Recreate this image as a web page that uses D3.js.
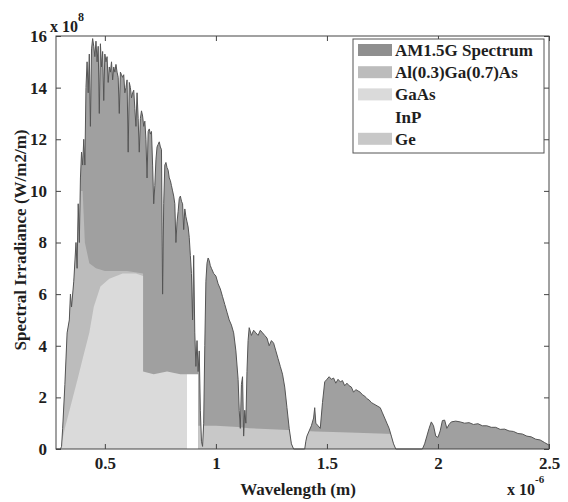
<!DOCTYPE html>
<html>
<head>
<meta charset="utf-8">
<script src="https://cdn.jsdelivr.net/npm/d3@7"></script>
<style>
  body { margin: 0; background: #fff; }
  svg text { font-family: "Liberation Serif", "Times New Roman", serif; font-weight: bold; fill: #1e1e1e; }
</style>
</head>
<body>
<div id="chart"></div>
<script>
// wavelength in micrometres (axis shows x 10^-6), irradiance in 10^8 W/m2/m
var wavelength = [0.28, 0.30, 0.305, 0.31, 0.32, 0.33, 0.34, 0.345, 0.35, 0.36, 0.37, 0.375, 0.38, 0.385, 0.39, 0.395,
  0.40, 0.405, 0.41, 0.415, 0.42, 0.425, 0.43, 0.435, 0.44, 0.445, 0.45, 0.455, 0.46, 0.465, 0.47, 0.475,
  0.48, 0.485, 0.49, 0.495, 0.50, 0.505, 0.51, 0.515, 0.52, 0.525, 0.53, 0.535, 0.54, 0.545, 0.55, 0.555,
  0.56, 0.565, 0.57, 0.575, 0.58, 0.585, 0.59, 0.595, 0.60, 0.605, 0.61, 0.615, 0.62, 0.625, 0.63, 0.635,
  0.64, 0.645, 0.65, 0.655, 0.66, 0.665, 0.67, 0.675, 0.68, 0.685, 0.69, 0.695, 0.70, 0.705, 0.71, 0.715,
  0.72, 0.725, 0.73, 0.735, 0.74, 0.745, 0.75, 0.755, 0.76, 0.765, 0.77, 0.775, 0.78, 0.785, 0.79, 0.795,
  0.80, 0.805, 0.81, 0.815, 0.82, 0.825, 0.83, 0.835, 0.84, 0.845, 0.85, 0.855, 0.86, 0.865, 0.87, 0.875,
  0.88, 0.885, 0.89, 0.895, 0.90, 0.905, 0.91, 0.915, 0.92, 0.925, 0.93, 0.935, 0.94, 0.945, 0.95, 0.955,
  0.96, 0.965, 0.97, 0.975, 0.98, 0.99, 1.00, 1.01, 1.02, 1.03, 1.04, 1.05, 1.06, 1.07, 1.08, 1.09,
  1.10, 1.105, 1.11, 1.115, 1.12, 1.125, 1.13, 1.135, 1.14, 1.145, 1.15, 1.16, 1.17, 1.18, 1.19, 1.20,
  1.21, 1.22, 1.23, 1.24, 1.25, 1.26, 1.27, 1.28, 1.29, 1.30, 1.31, 1.32, 1.33, 1.34, 1.35, 1.40,
  1.405, 1.41, 1.42, 1.43, 1.44, 1.445, 1.45, 1.46, 1.47, 1.48, 1.49, 1.50, 1.51, 1.52, 1.53, 1.54,
  1.55, 1.56, 1.57, 1.58, 1.59, 1.60, 1.61, 1.62, 1.63, 1.64, 1.65, 1.66, 1.67, 1.68, 1.69, 1.70,
  1.71, 1.72, 1.73, 1.74, 1.75, 1.76, 1.77, 1.78, 1.79, 1.80, 1.81, 1.93, 1.94, 1.95, 1.96, 1.97,
  1.98, 1.99, 2.00, 2.01, 2.02, 2.03, 2.04, 2.05, 2.06, 2.08, 2.10, 2.12, 2.14, 2.16, 2.18, 2.20,
  2.22, 2.24, 2.26, 2.28, 2.30, 2.32, 2.34, 2.36, 2.38, 2.40, 2.42, 2.44, 2.46, 2.48, 2.50];
var am15g = [0, 0, 0.1, 0.8, 2.5, 4.5, 5.0, 6.0, 5.5, 6.5, 8.0, 7.0, 9.5, 8.0, 10.5, 11.5,
  11.0, 12.0, 11.0, 14.0, 15.0, 13.8, 15.3, 12.5, 15.5, 15.9, 15.6, 15.2, 15.8, 15.0, 15.6, 13.0,
  15.7, 14.8, 15.4, 13.5, 15.3, 15.0, 15.2, 14.2, 14.8, 14.6, 15.0, 14.3, 14.8, 14.6, 14.9, 14.6,
  14.4, 13.0, 14.6, 14.5, 14.4, 14.5, 13.8, 14.0, 14.3, 11.5, 14.2, 14.0, 13.6, 13.8, 13.9, 13.2,
  12.5, 13.8, 12.8, 11.5, 12.8, 13.1, 12.9, 12.5, 12.7, 12.0, 10.5, 12.3, 12.4, 12.2, 12.3, 11.0,
  9.5, 10.2, 11.2, 11.7, 11.8, 11.9, 11.7, 11.6, 6.0, 9.5, 11.0, 11.1, 10.9, 10.8, 10.5, 10.4,
  10.2, 10.0, 9.8, 9.5, 8.0, 8.8, 9.2, 9.7, 9.8, 9.6, 9.5, 8.5, 9.3, 9.0, 8.8, 8.6,
  8.2, 7.5, 6.8, 5.0, 7.5, 4.5, 3.2, 4.2, 3.0, 3.8, 1.5, 0.3, 0.1, 1.0, 4.0, 6.5,
  7.2, 7.4, 7.3, 7.1, 7.0, 6.8, 6.7, 6.4, 6.2, 5.9, 5.6, 5.3, 5.0, 4.8, 4.5, 3.8,
  2.7, 1.5, 0.8, 2.5, 2.8, 0.5, 1.5, 1.0, 3.0, 4.2, 4.7, 4.4, 4.6, 4.5, 4.4, 4.6,
  4.5, 4.4, 4.3, 4.0, 4.2, 4.1, 3.8, 3.5, 3.2, 2.9, 2.4, 1.6, 0.8, 0.2, 0, 0,
  0.3, 0.5, 0.7, 0.9, 1.2, 1.6, 1.0, 0.9, 0.8, 1.8, 2.6, 2.7, 2.8, 2.7, 2.75, 2.55,
  2.7, 2.6, 2.65, 2.45, 2.55, 2.45, 2.4, 2.2, 2.3, 2.25, 2.2, 2.1, 2.05, 1.95, 1.9, 1.8,
  1.75, 1.7, 1.65, 1.6, 1.4, 1.2, 1.0, 0.8, 0.5, 0.2, 0, 0, 0.2, 0.5, 0.8, 1.05,
  0.9, 0.5, 0.45, 0.7, 1.1, 1.12, 0.8, 0.95, 1.05, 1.08, 1.05, 1.0, 1.02, 0.95, 0.98, 0.9,
  0.9, 0.84, 0.84, 0.76, 0.77, 0.7, 0.68, 0.6, 0.58, 0.5, 0.47, 0.38, 0.35, 0.25, 0.15];

// portions of the spectrum assigned to each junction
var alWl  = [0.30, 0.31, 0.33, 0.35, 0.37, 0.39, 0.40, 0.41, 0.43, 0.46, 0.50, 0.60, 0.672, 0.6721];
var alVal = [0, 1.0, 4.5, 6.0, 8.0, 10.0, 10.0, 8.0, 7.2, 7.0, 6.9, 6.9, 6.8, 0];
var gaasWl  = [0.30, 0.32, 0.35, 0.38, 0.40, 0.43, 0.45, 0.48, 0.52, 0.58, 0.64, 0.672, 0.6721, 0.72, 0.78, 0.84, 0.87, 0.8701];
var gaasVal = [0, 0.8, 1.8, 2.8, 3.5, 4.5, 5.5, 6.3, 6.6, 6.8, 6.8, 6.7, 3.0, 2.9, 3.0, 2.9, 2.9, 0];
var inpWl  = [0.8699, 0.87, 0.92, 0.9201];
var inpVal = [0, 2.9, 2.9, 0];
var geWl  = [0.9199, 0.92, 1.0, 1.1, 1.15, 1.3, 1.45, 1.6, 1.8, 1.88, 1.8801];
var geVal = [0, 0.9, 0.9, 0.85, 0.8, 0.75, 0.68, 0.64, 0.58, 0.55, 0];

var xTicks = [0.5, 1, 1.5, 2, 2.5];
var yTicks = [0, 2, 4, 6, 8, 10, 12, 14, 16];
var legendNames = ['AM1.5G Spectrum', 'Al(0.3)Ga(0.7)As', 'GaAs', 'InP', 'Ge'];
var legendColors = ['#a0a0a0', '#bcbcbc', '#dadada', '#ffffff', '#c8c8c8'];

var W = 568, H = 502;
var plotL = 56, plotR = 549, plotT = 36, plotB = 449;

var svg = d3.select('#chart').append('svg')
  .attr('width', W)
  .attr('height', H);

var x = d3.scaleLinear().domain([0.28, 2.5]).range([plotL, plotR]);
var y = d3.scaleLinear().domain([0, 16]).range([plotB, plotT]);

var area = d3.area()
  .x(function(d) { return x(d[0]); })
  .y0(y(0))
  .y1(function(d) { return y(d[1]); });
var line = d3.line()
  .x(function(d) { return x(d[0]); })
  .y(function(d) { return y(d[1]); });

var amData = d3.zip(wavelength, am15g);

// the junction areas are clipped to the spectrum outline
svg.append('clipPath').attr('id', 'amClip')
  .append('path').attr('d', area(amData));

svg.append('path')
  .attr('d', area(amData))
  .attr('fill', legendColors[0]);

var layers = [d3.zip(alWl, alVal), d3.zip(gaasWl, gaasVal), d3.zip(inpWl, inpVal), d3.zip(geWl, geVal)];
svg.selectAll('.layer').data(layers)
  .enter().append('path')
    .attr('class', 'layer')
    .attr('clip-path', 'url(#amClip)')
    .attr('d', area)
    .attr('fill', function(d, i) { return legendColors[i + 1]; });

// darker ragged edge of the spectrum
svg.append('path')
  .attr('d', line(amData))
  .attr('fill', 'none')
  .attr('stroke', '#555')
  .attr('stroke-width', 1);

// axes with inward ticks on all four sides
var fmt = d3.format('~g');
svg.append('g').attr('transform', 'translate(0,' + plotB + ')')
  .call(d3.axisBottom(x).tickValues(xTicks).tickFormat(fmt).tickSizeInner(-5).tickSizeOuter(0).tickPadding(8));
svg.append('g').attr('transform', 'translate(0,' + plotT + ')')
  .call(d3.axisTop(x).tickValues(xTicks).tickSizeInner(-5).tickSizeOuter(0).tickFormat(''));
svg.append('g').attr('transform', 'translate(' + plotL + ',0)')
  .call(d3.axisLeft(y).tickValues(yTicks).tickFormat(fmt).tickSizeInner(-5).tickSizeOuter(0).tickPadding(9));
svg.append('g').attr('transform', 'translate(' + plotR + ',0)')
  .call(d3.axisRight(y).tickValues(yTicks).tickSizeInner(-5).tickSizeOuter(0).tickFormat(''));

svg.selectAll('.domain').remove();
svg.selectAll('.tick line').attr('stroke', '#444');
svg.selectAll('.tick text').attr('font-size', 17).attr('fill', '#1e1e1e')
  .style('font-family', '"Liberation Serif", serif').style('font-weight', 'bold');

svg.append('rect')
  .attr('x', plotL).attr('y', plotT)
  .attr('width', plotR - plotL).attr('height', plotB - plotT)
  .attr('fill', 'none').attr('stroke', '#444').attr('stroke-width', 1);

// labels
svg.append('text')
  .attr('x', 298).attr('y', 495)
  .attr('text-anchor', 'middle').attr('font-size', 17)
  .text('Wavelength (m)');

svg.append('text')
  .attr('transform', 'translate(26,240) rotate(-90)')
  .attr('text-anchor', 'middle').attr('font-size', 17)
  .text('Spectral Irradiance (W/m2/m)');

var e8 = svg.append('text').attr('x', 50).attr('y', 32).attr('font-size', 16);
e8.append('tspan').text('x 10');
e8.append('tspan').attr('dy', -11).attr('font-size', 12).text('8');

var e6 = svg.append('text').attr('x', 507).attr('y', 495).attr('font-size', 16);
e6.append('tspan').text('x 10');
e6.append('tspan').attr('dy', -12).attr('font-size', 11).text('-6');

// legend
var lg = svg.append('g');
lg.append('rect')
  .attr('x', 353).attr('y', 39).attr('width', 191).attr('height', 114)
  .attr('fill', '#fff').attr('stroke', '#555');
var rows = lg.selectAll('.row').data(legendNames)
  .enter().append('g')
    .attr('class', 'row')
    .attr('transform', function(d, i) { return 'translate(0,' + (50 + i * 22.2) + ')'; });
rows.append('rect')
  .attr('x', 358).attr('y', -6).attr('width', 34).attr('height', 12)
  .attr('fill', function(d, i) { return i === 0 ? '#8f8f8f' : legendColors[i]; });
rows.append('text')
  .attr('x', 395).attr('y', 6)
  .attr('font-size', 17)
  .text(function(d) { return d; });
</script>
</body>
</html>
